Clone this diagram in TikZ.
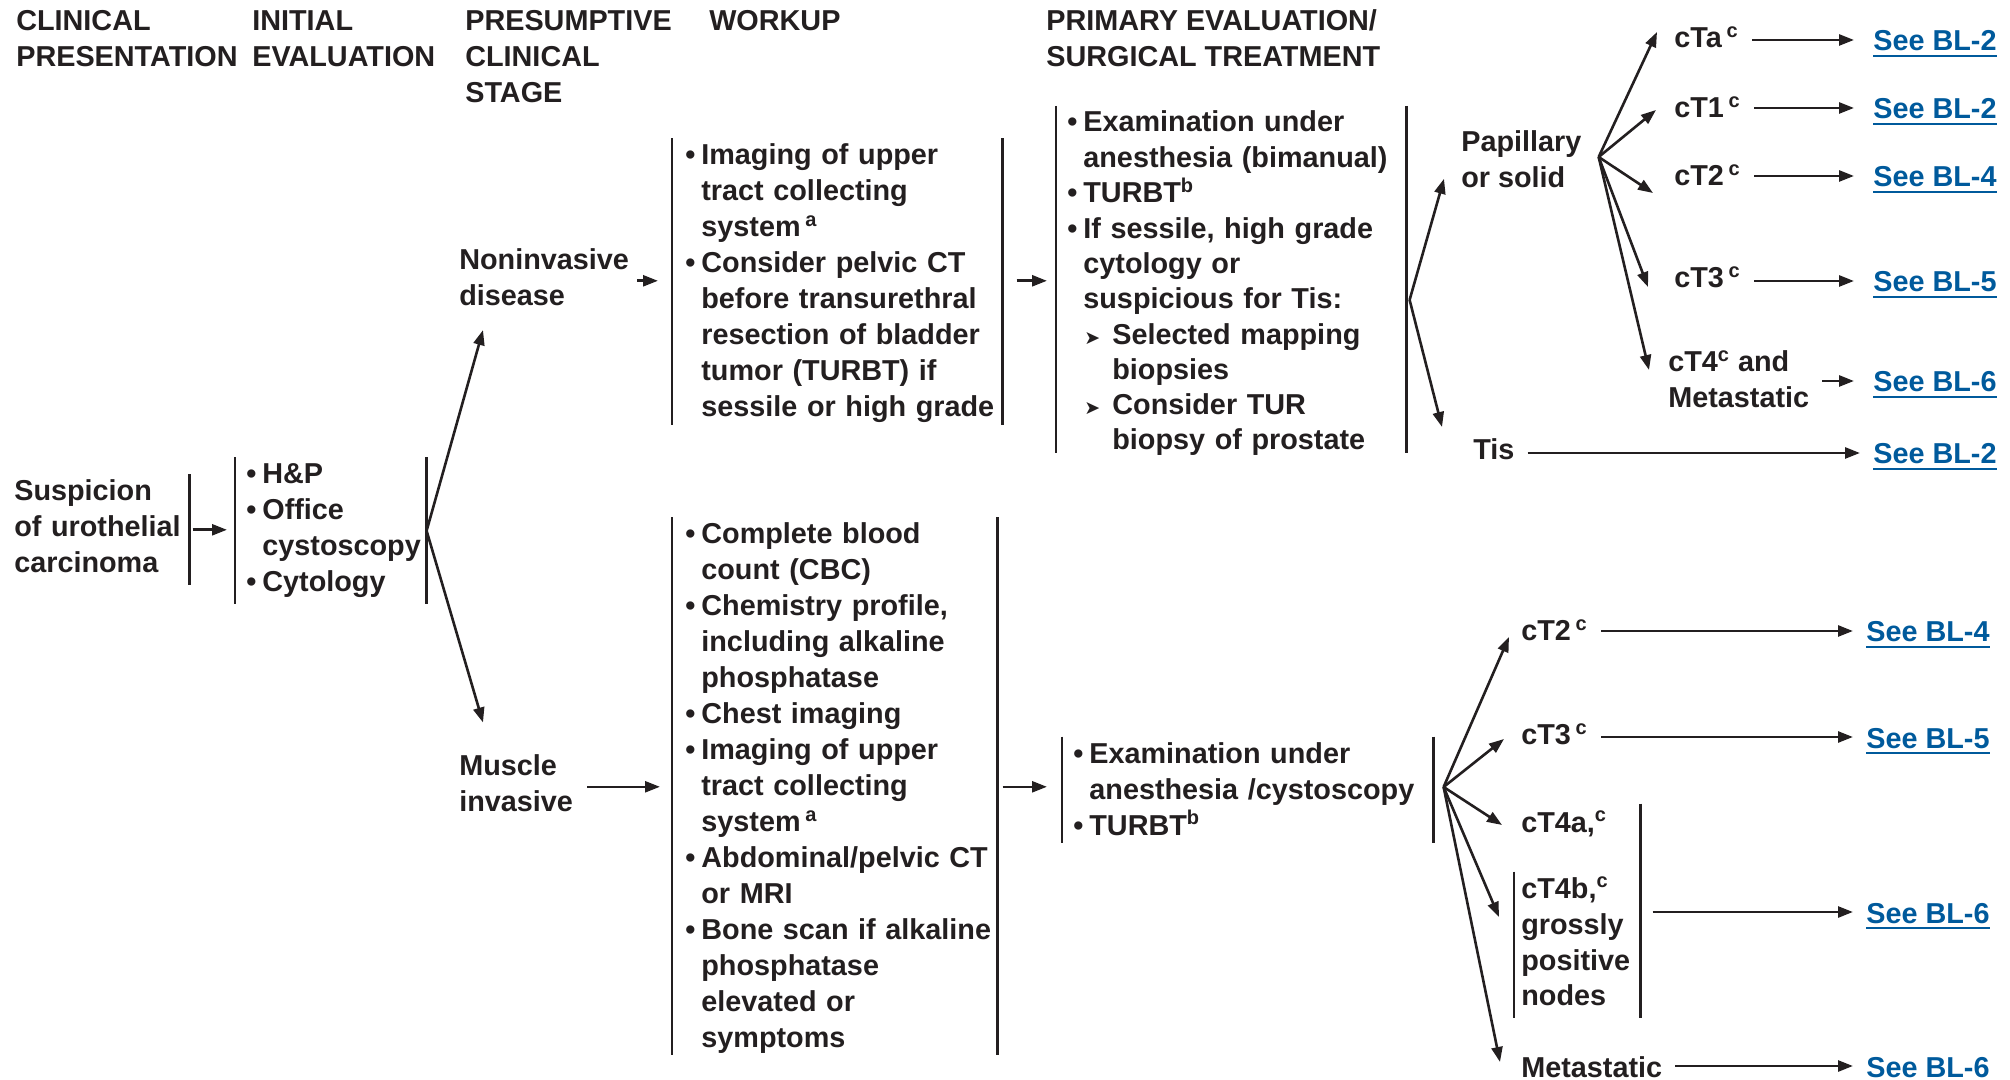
\documentclass[tikz,border=0pt]{standalone}
\usepackage{fontspec}
\setmainfont{Liberation Sans}
\newfontfamily\symfont{DejaVu Sans}
\usetikzlibrary{arrows.meta}
\definecolor{ink}{HTML}{231F20}
\definecolor{linkblue}{HTML}{005A9C}
\newcommand{\stack}[1]{\begin{tabular}[t]{@{}l@{}}#1\end{tabular}}
\newcommand{\blist}[1]{\begin{tabular}[t]{@{}l@{\hspace{3pt}}l@{}}#1\end{tabular}}
\newcommand{\subarrow}{\makebox[14.5pt][l]{\hspace{0.5pt}{\symfont\fontsize{9.5}{9.5}\selectfont ➤}}}
\newcommand{\subgap}{\hspace*{14.5pt}}
\newcommand{\ulbox}[1]{\setbox0\hbox{#1}\rlap{\rule[-3pt]{\wd0}{1.1pt}}\box0}
\newcommand{\seebl}[1]{\textcolor{linkblue}{\ulbox{See BL-#1}}}
\tikzset{
  every node/.style={font=\fontsize{14.4}{18}\selectfont\bfseries, inner sep=0pt},
  arr/.style={-{Triangle[length=7.5pt,width=5.5pt]}},
  tolink/.style={arr, shorten <=6pt, shorten >=#1},
  bars/.style 2 args={inner xsep=#1, append after command={
      (\tikzlastnode.north west) edge[shorten >=#2] (\tikzlastnode.south west)
      (\tikzlastnode.north east) edge[shorten >=#2] (\tikzlastnode.south east)}},
  lbar/.style={inner xsep=#1, append after command={
      (\tikzlastnode.north west) edge (\tikzlastnode.south west)}},
  rbar/.style={append after command={
      (\tikzlastnode.north east) edge (\tikzlastnode.south east)}},
  tlabel/.style={anchor=base west, text height=10.5pt, text depth=0pt},
  link/.style={anchor=base west, text height=11pt, text depth=0pt},
}
\begin{document}
\begin{tikzpicture}[x=0.5pt, y=-0.5pt, color=ink, line width=1.3pt]
  \useasboundingbox (0,0) rectangle (2010,1080);
  % Column heads
  \node[anchor=base west] (hclin) at (15,31) {\stack{CLINICAL\\PRESENTATION}};
  \node[anchor=base west] (hinit) at (251,31) {\stack{INITIAL\\EVALUATION}};
  \node[anchor=base west] (hstage) at (464,31) {\stack{PRESUMPTIVE\\CLINICAL\\STAGE}};
  \node[anchor=base west] (hwork) at (708,31) {WORKUP};
  \node[anchor=base west] (hprim) at (1045,31) {\stack{PRIMARY EVALUATION/\\SURGICAL TREATMENT}};

  % Presentation and initial evaluation
  \node[rbar, anchor=base west, text width=87pt] (susp) at (13,501)
    {\stack{Suspicion\\of urothelial\\carcinoma}};
  \node[bars={5pt}{0pt}, anchor=base west, text width=84.5pt] (init) at (235,484)
    {\blist{•&H\&P\\•&Office\\&cystoscopy\\•&Cytology}};
  \draw[arr, shorten <=1.5pt, shorten >=4pt] (susp.east) -- (init.west |- susp.east);

  % Clinical stage
  \node[anchor=base west] (noninv) at (458,270) {\stack{Noninvasive\\disease}};
  \node[anchor=base west] (muscle) at (458,776) {\stack{Muscle\\invasive}};
  \draw[arr] (init.east) -- ([xshift=12.5pt,yshift=-6pt]noninv.south west);
  \draw[arr] (init.east) -- ([xshift=12.5pt,yshift=13.5pt]muscle.north west);

  % Workup
  \node[bars={6pt}{2pt}, anchor=base west, text width=152pt] (wtop) at (672,165)
    {\blist{•&Imaging of upper\\&tract collecting\\&system\,\textsuperscript{a}\\
      •&Consider pelvic CT\\&before transurethral\\&resection of bladder\\
      &tumor (TURBT) if\\&sessile or high grade}};
  \node[bars={6pt}{2.5pt}, anchor=base west, text width=149.5pt] (wlow) at (672,544)
    {\blist{•&Complete blood\\&count (CBC)\\•&Chemistry profile,\\&including alkaline\\
      &phosphatase\\•&Chest imaging\\•&Imaging of upper\\&tract collecting\\
      &system\,\textsuperscript{a}\\•&Abdominal/pelvic CT\\&or MRI\\
      •&Bone scan if alkaline\\&phosphatase\\&elevated or\\&symptoms}};
  \draw[arr, shorten <=3.5pt, shorten >=7pt] (noninv.east) -- (noninv.east -| wtop.west);
  \draw[arr, shorten <=6.5pt, shorten >=6pt] (muscle.east) -- (muscle.east -| wlow.west);

  % Primary evaluation
  \node[bars={5pt}{4.5pt}, anchor=base west, text width=164pt,
    font=\fontsize{14.4}{17.65}\selectfont\bfseries] (ptop) at (1056,132)
    {\blist{•&Examination under\\&anesthesia (bimanual)\\•&TURBT\textsuperscript{b}\\
      •&If sessile, high grade\\&cytology or\\&suspicious for Tis:\\
      &\subarrow Selected mapping\\&\subgap biopsies\\
      &\subarrow Consider TUR\\&\subgap biopsy of prostate}};
  \node[bars={5pt}{2pt}, anchor=base west, text width=174.5pt] (plow) at (1062,763)
    {\blist{•&Examination under\\&anesthesia /cystoscopy\\•&TURBT\textsuperscript{b}}};
  \draw[arr, shorten <=7pt, shorten >=4.5pt] (wtop.east |- noninv.east) -- (ptop.west |- noninv.east);
  \draw[arr, shorten <=2.5pt, shorten >=7.5pt] (wlow.east |- muscle.east) -- (plow.west |- muscle.east);

  % Noninvasive outcomes
  \coordinate (ptopsplit) at ([xshift=1.5pt,yshift=-8pt]ptop.east);
  \node[anchor=base west] (papil) at (1460,152) {\stack{Papillary\\or solid}};
  \node[tlabel] (tis) at (1472,460) {Tis};
  \draw[arr] (ptopsplit) -- ([xshift=-8pt,yshift=-8pt]papil.west);
  \draw[arr] (ptopsplit) -- ([xshift=-15pt,yshift=11.25pt]tis.west);

  \coordinate (papsplit) at ([xshift=8pt,yshift=2.9pt]papil.east);
  \node[tlabel] (cta) at (1673,48) {cTa\,\textsuperscript{c}};
  \node[tlabel] (ctone) at (1673,118) {cT1\,\textsuperscript{c}};
  \node[tlabel] (cttwo) at (1673,186) {cT2\,\textsuperscript{c}};
  \node[tlabel] (ctthree) at (1673,288) {cT3\,\textsuperscript{c}};
  \node[anchor=base west] (ctfour) at (1667,372) {\stack{cT4\textsuperscript{c} and\\Metastatic}};
  \draw[arr] (papsplit) -- ([xshift=-8pt,yshift=2.75pt]cta.west);
  \draw[arr] (papsplit) -- ([xshift=-8.5pt,yshift=-1.25pt]ctone.west);
  \draw[arr] (papsplit) -- ([xshift=-10pt,yshift=-8.75pt]cttwo.west);
  \draw[arr] (papsplit) -- ([xshift=-12.5pt,yshift=-4.75pt]ctthree.west);
  \draw[arr] (papsplit) -- ([xshift=-9pt,yshift=6.4pt]ctfour.west);

  \node[link] (seea) at (1872,51) {\seebl{2}};
  \node[link] (seeone) at (1872,119) {\seebl{2}};
  \node[link] (seetwo) at (1872,187) {\seebl{4}};
  \node[link] (seethree) at (1872,292) {\seebl{5}};
  \node[link] (seefour) at (1872,392) {\seebl{6}};
  \node[link] (seetis) at (1872,464) {\seebl{2}};
  \draw[tolink=9pt] (seea.west -| cta.east) -- (seea.west);
  \draw[tolink=9pt] (seeone.west -| ctone.east) -- (seeone.west);
  \draw[tolink=9pt] (seetwo.west -| cttwo.east) -- (seetwo.west);
  \draw[tolink=9pt] (seethree.west -| ctthree.east) -- (seethree.west);
  \draw[tolink=9pt] (seefour.west -| ctfour.east) -- (seefour.west);
  \draw[tolink=6pt] (seetis.west -| tis.east) -- (seetis.west);

  % Muscle invasive outcomes
  \coordinate (plowsplit) at ([xshift=5pt,yshift=2.4pt]plow.east);
  \node[tlabel] (lcttwo) at (1520,641) {cT2\,\textsuperscript{c}};
  \node[tlabel] (lctthree) at (1520,745) {cT3\,\textsuperscript{c}};
  \node[tlabel] (ctfoura) at (1520,832) {cT4a,\textsuperscript{c}};
  \node[lbar=3pt, anchor=base west, text width=56pt] (ctfourb) at (1514,898)
    {\stack{cT4b,\textsuperscript{c}\\grossly\\positive\\nodes}};
  \node[tlabel] (lmeta) at (1520,1077) {Metastatic};
  \draw ([yshift=3pt]ctfourb.east |- ctfoura.north) -- (ctfourb.south east);
  \draw[arr] (plowsplit) -- ([xshift=-5.5pt,yshift=-3.25pt]lcttwo.west);
  \draw[arr] (plowsplit) -- ([xshift=-8pt,yshift=-2.25pt]lctthree.west);
  \draw[arr] (plowsplit) -- ([xshift=-9pt,yshift=-1.75pt]ctfoura.west);
  \draw[arr] (plowsplit) -- ([xshift=-7.5pt,yshift=13.9pt]ctfourb.west);
  \draw[arr] (plowsplit) -- ([xshift=-10pt,yshift=2.25pt]lmeta.west);

  \node[link] (lseetwo) at (1865,642) {\seebl{4}};
  \node[link] (lseethree) at (1865,748) {\seebl{5}};
  \node[link] (lseefour) at (1865,923) {\seebl{6}};
  \node[link] (lseemeta) at (1865,1077) {\seebl{6}};
  \draw[tolink=6pt] (lseetwo.west -| lcttwo.east) -- (lseetwo.west);
  \draw[tolink=6pt] (lseethree.west -| lctthree.east) -- (lseethree.west);
  \draw[tolink=6pt] (lseefour.west -| ctfourb.east) -- (lseefour.west);
  \draw[tolink=6pt] (lseemeta.west -| lmeta.east) -- (lseemeta.west);
\end{tikzpicture}
\end{document}
